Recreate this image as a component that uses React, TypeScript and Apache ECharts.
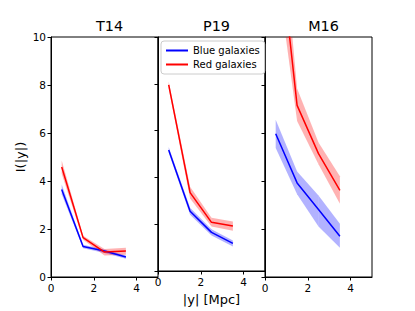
import React, { useEffect, useRef } from "react";
import * as echarts from "echarts";

const xValues = [0.5, 1.5, 2.5, 3.5];
const panelTitles = ["T14", "P19", "M16"];

const blueMid = [
  [3.65, 1.27, 1.08, 0.83],
  [5.17, 2.55, 1.65, 1.18],
  [5.97, 3.92, 2.81, 1.7],
];
const blueLow = [
  [3.45, 1.2, 1.0, 0.76],
  [5.05, 2.4, 1.52, 1.05],
  [5.38, 3.45, 2.1, 1.22],
];
const blueHigh = [
  [3.85, 1.34, 1.15, 0.9],
  [5.3, 2.7, 1.78, 1.3],
  [6.55, 4.4, 3.4, 2.22],
];
const redMid = [
  [4.58, 1.64, 1.04, 1.08],
  [7.95, 3.35, 2.08, 1.92],
  [15.3, 7.15, 5.14, 3.61],
];
const redLow = [
  [4.3, 1.55, 0.9, 0.93],
  [7.8, 3.1, 1.9, 1.72],
  [13.1, 6.5, 4.7, 3.05],
];
const redHigh = [
  [4.85, 1.72, 1.17, 1.22],
  [8.1, 3.6, 2.28, 2.12],
  [17.6, 7.85, 5.6, 4.2],
];

const yTicks = [0, 2, 4, 6, 8, 10];
const xTicks = [0, 2, 4];

const BLUE = "#0000ff";
const RED = "#ff0000";
const FONT = "DejaVu Sans";

export default function App() {
  const ref = useRef<HTMLDivElement>(null);
  useEffect(() => {
    if (!ref.current) return;
    const chart = echarts.init(ref.current, undefined, { renderer: "svg" });
    const lefts = [51, 158, 265];
    const grids = lefts.map((l) => ({
      left: l,
      top: 37,
      width: 107,
      height: 240,
      show: true,
      borderColor: "#000",
      borderWidth: 1,
      backgroundColor: "transparent",
    }));
    const xAxes = lefts.map((_, i) => ({
      type: "value",
      gridIndex: i,
      min: 0,
      max: 5,
      name: i === 1 ? "|y| [Mpc]" : "",
      nameLocation: "middle",
      nameGap: 22,
      nameTextStyle: { fontFamily: FONT, fontSize: 13, color: "#000" },
      axisLine: { show: true, lineStyle: { color: "#000", width: 1 } },
      axisTick: { show: true, length: 3.5, customValues: xTicks, lineStyle: { color: "#000" } },
      axisLabel: { customValues: xTicks, fontFamily: FONT, fontSize: 10.5, color: "#000", margin: 5 },
      splitLine: { show: false },
    }));
    const yAxes = lefts.map((_, i) => ({
      type: "value",
      gridIndex: i,
      min: 0,
      max: 10,
      interval: 2,
      name: i === 0 ? "I(|y|)" : "",
      nameLocation: "middle",
      nameGap: 24,
      nameRotate: 90,
      nameTextStyle: { fontFamily: FONT, fontSize: 13, color: "#000" },
      axisLine: { show: true, lineStyle: { color: "#000", width: 1 } },
      axisTick: { show: true, length: 3.5, customValues: yTicks, lineStyle: { color: "#000" } },
      axisLabel: { show: i === 0, customValues: yTicks, fontFamily: FONT, fontSize: 10.5, color: "#000", margin: 5 },
      splitLine: { show: false },
    }));
    const series: any[] = [];
    const addBand = (i: number, low: number[], high: number[], color: string, key: string) => {
      const data = xValues.map((x, k) => [x, low[k], high[k]]);
      series.push({
        type: "custom",
        name: "band-" + key + i,
        xAxisIndex: i,
        yAxisIndex: i,
        clip: true,
        silent: true,
        data,
        encode: { x: 0, y: [1, 2] },
        renderItem: (params: any, api: any) => {
          const k = params.dataIndex;
          if (k >= data.length - 1) return null;
          const a = data[k];
          const b = data[k + 1];
          const pts = [
            api.coord([a[0], a[1]]),
            api.coord([b[0], b[1]]),
            api.coord([b[0], b[2]]),
            api.coord([a[0], a[2]]),
          ];
          return {
            type: "polygon",
            shape: { points: pts },
            style: { fill: color, opacity: 0.3, stroke: "none" },
          };
        },
      });
    };
    for (let i = 0; i < 3; i++) {
      addBand(i, blueLow[i], blueHigh[i], BLUE, "b");
      addBand(i, redLow[i], redHigh[i], RED, "r");
      series.push({
        type: "line",
        name: "Blue galaxies",
        xAxisIndex: i,
        yAxisIndex: i,
        data: xValues.map((x, k) => [x, blueMid[i][k]]),
        symbol: "none",
        itemStyle: { color: BLUE },
        lineStyle: { color: BLUE, width: 1.5 },
      });
      series.push({
        type: "line",
        name: "Red galaxies",
        xAxisIndex: i,
        yAxisIndex: i,
        data: xValues.map((x, k) => [x, redMid[i][k]]),
        symbol: "none",
        itemStyle: { color: RED },
        lineStyle: { color: RED, width: 1.5 },
      });
    }
    chart.setOption({
      animation: false,
      textStyle: { fontFamily: FONT },
      title: panelTitles.map((t, i) => ({
        text: t,
        left: lefts[i] + 53.5,
        top: 14,
        textAlign: "center",
        textStyle: { fontFamily: FONT, fontSize: 14.4, fontWeight: "normal", color: "#000" },
      })),
      legend: {
        data: ["Blue galaxies", "Red galaxies"],
        orient: "vertical",
        left: 161,
        top: 41,
        icon: "rect",
        itemWidth: 22,
        itemHeight: 2,
        itemGap: 3,
        padding: [4, 5, 4, 5],
        borderColor: "#cccccc",
        borderWidth: 1,
        borderRadius: 3,
        backgroundColor: "rgba(255,255,255,0.8)",
        textStyle: { fontFamily: FONT, fontSize: 10, color: "#000", lineHeight: 11 },
        selectedMode: false,
      },
      grid: grids,
      xAxis: xAxes,
      yAxis: yAxes,
      series,
    });
    return () => chart.dispose();
  }, []);
  return <div ref={ref} style={{ width: 415, height: 311, position: "absolute", left: 0, top: 0 }} />;
}
